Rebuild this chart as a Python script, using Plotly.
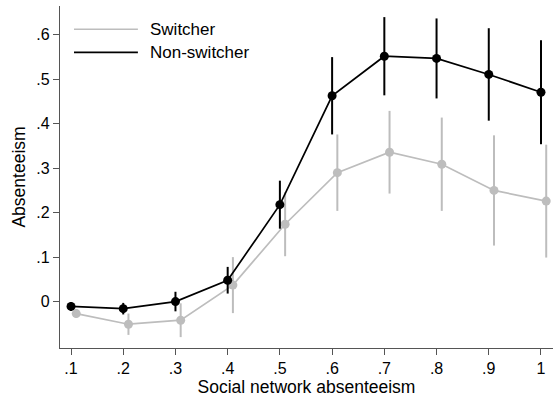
import plotly.graph_objects as go

# Social network absenteeism bins
x_bins = [0.1, 0.2, 0.3, 0.4, 0.5, 0.6, 0.7, 0.8, 0.9, 1.0]
switcher_offset = 0.01  # small horizontal dodge so the two series don't overlap

# Estimated absenteeism and 95% CI half-widths
switcher_y = [-0.027, -0.051, -0.042, 0.037, 0.174, 0.290, 0.336, 0.309, 0.250, 0.226]
switcher_err = [0.010, 0.024, 0.038, 0.063, 0.072, 0.086, 0.093, 0.105, 0.124, 0.127]
nonswitcher_y = [-0.011, -0.016, 0.000, 0.048, 0.218, 0.463, 0.552, 0.547, 0.511, 0.471]
nonswitcher_err = [0.010, 0.013, 0.022, 0.030, 0.054, 0.087, 0.088, 0.090, 0.104, 0.117]

x_ticks = [0.1, 0.2, 0.3, 0.4, 0.5, 0.6, 0.7, 0.8, 0.9, 1.0]
x_ticklabels = [".1", ".2", ".3", ".4", ".5", ".6", ".7", ".8", ".9", "1"]
y_ticks = [0, 0.1, 0.2, 0.3, 0.4, 0.5, 0.6]
y_ticklabels = ["0", ".1", ".2", ".3", ".4", ".5", ".6"]

series_names = ["Switcher", "Non-switcher"]
GRAY = "#bdbdbd"
BLACK = "#000000"
AXIS = "#555555"
FONT = "Liberation Sans, Arial, Helvetica, sans-serif"

fig = go.Figure()

fig.add_trace(go.Scatter(
    x=[v + switcher_offset for v in x_bins], y=switcher_y,
    mode="lines+markers", name=series_names[0], showlegend=False,
    line=dict(color=GRAY, width=1.7),
    marker=dict(color=GRAY, size=9),
    error_y=dict(type="data", array=switcher_err, color=GRAY, thickness=2, width=0),
))
fig.add_trace(go.Scatter(
    x=x_bins, y=nonswitcher_y,
    mode="lines+markers", name=series_names[1], showlegend=False,
    line=dict(color=BLACK, width=1.7),
    marker=dict(color=BLACK, size=9),
    error_y=dict(type="data", array=nonswitcher_err, color=BLACK, thickness=2, width=0),
))

# Legend drawn as line samples with labels, top-left inside the plot
legend_rows = [(0.932, GRAY, series_names[0]), (0.8645, BLACK, series_names[1])]
for ypos, col, label in legend_rows:
    fig.add_shape(type="line", xref="paper", yref="paper",
                  x0=0.0284, x1=0.158, y0=ypos, y1=ypos,
                  line=dict(color=col, width=1.7))
    fig.add_annotation(xref="paper", yref="paper", x=0.1785, y=ypos,
                       text=label, showarrow=False, xanchor="left", yanchor="middle",
                       font=dict(family=FONT, size=17, color="#000000"))

axis_common = dict(
    showline=True, linecolor=AXIS, linewidth=1.3,
    ticks="outside", ticklen=6, tickwidth=1.3, tickcolor=AXIS,
    showgrid=False, zeroline=False,
    tickfont=dict(family=FONT, size=16, color="#000000"),
)

fig.update_layout(
    width=554, height=399,
    margin=dict(l=60, r=1, t=6, b=51),
    paper_bgcolor="white", plot_bgcolor="white",
    font=dict(family=FONT, color="#000000"),
    xaxis=dict(
        range=[0.0789, 1.023], tickvals=x_ticks, ticktext=x_ticklabels,
        title=dict(text="Social network absenteeism", font=dict(family=FONT, size=17.5), standoff=3),
        **axis_common,
    ),
    yaxis=dict(
        range=[-0.1045, 0.665], tickvals=y_ticks, ticktext=y_ticklabels,
        title=dict(text="Absenteeism", font=dict(family=FONT, size=17.5), standoff=6),
        **axis_common,
    ),
)

fig.write_html("out.html")
